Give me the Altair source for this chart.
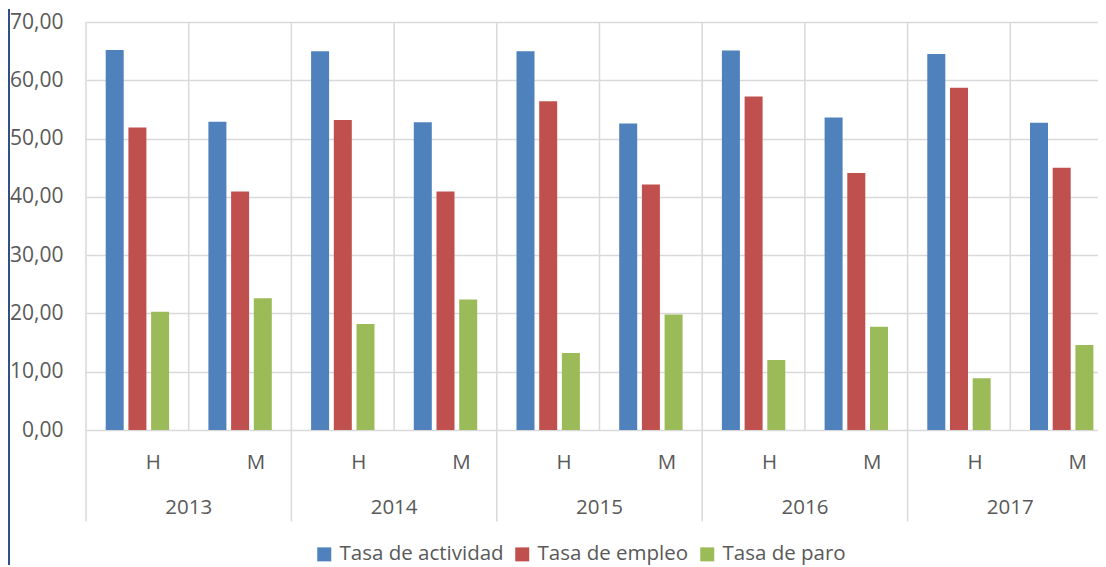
import altair as alt
import pandas as pd

years = ["2013", "2014", "2015", "2016", "2017"]
sexes = ["H", "M"]
series = ["Tasa de actividad", "Tasa de empleo", "Tasa de paro"]
actividad = [65.2, 52.9, 65.0, 52.8, 65.0, 52.6, 65.1, 53.6, 64.5, 52.7]
empleo = [51.9, 40.9, 53.2, 40.9, 56.4, 42.1, 57.2, 44.1, 58.7, 45.0]
paro = [20.3, 22.6, 18.2, 22.4, 13.2, 19.8, 12.0, 17.7, 8.9, 14.6]
colors = ["#4F81BD", "#C0504D", "#9BBB59"]

cats = [f"{y} {s}" for y in years for s in sexes]
cat_year = [y for y in years for s in sexes]
cat_sex = [s for y in years for s in sexes]

rows = []
for vals, name in zip([actividad, empleo, paro], series):
    for c, v in zip(cats, vals):
        rows.append({"cat": c, "serie": name, "value": v})
df = pd.DataFrame(rows)
cat_df = pd.DataFrame({"cat": cats, "year": cat_year, "sex": cat_sex})

W = 1012
H = 408
FONT = "Open Sans"
GREY = "#595959"
GRID = "#D9D9D9"

xscale = alt.Scale(domain=cats, range=[0, 1027], paddingInner=0, paddingOuter=0)

vgrid = alt.Chart(cat_df).mark_rule(color=GRID, strokeWidth=1.5).encode(
    x=alt.X("cat:N", bandPosition=0, scale=xscale, axis=None),
    y=alt.value(0),
    y2=alt.value(H),
)

ygrid = alt.Chart(cat_df).transform_filter(alt.datum.sex == "H").mark_rule(
    color=GRID, strokeWidth=1.5
).encode(
    x=alt.X("cat:N", bandPosition=0, scale=xscale, axis=None),
    y=alt.value(H),
    y2=alt.value(H + 91.5),
)

bars = alt.Chart(df).mark_bar().encode(
    x=alt.X("cat:N", scale=xscale, axis=None),
    xOffset=alt.XOffset(
        "serie:N",
        scale=alt.Scale(domain=series, range=[19.7, 83.1], paddingInner=0.207, paddingOuter=0),
    ),
    y=alt.Y(
        "value:Q",
        scale=alt.Scale(domain=[0, 70], nice=False),
        axis=alt.Axis(
            values=[0, 10, 20, 30, 40, 50, 60, 70],
            labelExpr="replace(format(datum.value, '.2f'), '.', ',')",
            title=None,
            domain=False,
            ticks=False,
            grid=True,
            gridColor=GRID,
            gridWidth=1.5,
            labelFont=FONT,
            labelFontSize=21,
            labelColor=GREY,
            labelPadding=23,
        ),
    ),
    color=alt.Color(
        "serie:N",
        scale=alt.Scale(domain=series, range=colors),
        legend=alt.Legend(
            title=None,
            orient="none",
            direction="horizontal",
            columns=3,
            legendX=228,
            legendY=522,
            symbolType="square",
            symbolSize=196,
            symbolStrokeWidth=0,
            labelFont=FONT,
            labelFontSize=20.5,
            labelColor=GREY,
            labelOffset=5,
            labelLimit=400,
            columnPadding=8,
        ),
    ),
)

hm_text = alt.Chart(cat_df).mark_text(
    font=FONT, fontSize=20.5, color=GREY, dx=16, baseline="middle"
).encode(
    x=alt.X("cat:N", scale=xscale, axis=None),
    y=alt.value(H + 32.5),
    text="sex:N",
)

year_text = alt.Chart(cat_df).transform_filter(alt.datum.sex == "M").mark_text(
    font=FONT, fontSize=20.5, color=GREY, baseline="middle"
).encode(
    x=alt.X("cat:N", bandPosition=0, scale=xscale, axis=None),
    y=alt.value(H + 78),
    text="year:N",
)

border = alt.Chart(pd.DataFrame({"b": [0]})).mark_rule(color="#2F4F86", strokeWidth=2).encode(
    x=alt.value(-77),
    y=alt.value(-13),
    y2=alt.value(H + 135),
)

chart = alt.layer(vgrid, ygrid, bars, hm_text, year_text, border).properties(
    width=W, height=H, padding={"top": 0, "left": 0, "right": 0, "bottom": 6}
).configure_view(stroke=None)

chart.save("out.html", embed_options={"renderer": "svg", "actions": False})
